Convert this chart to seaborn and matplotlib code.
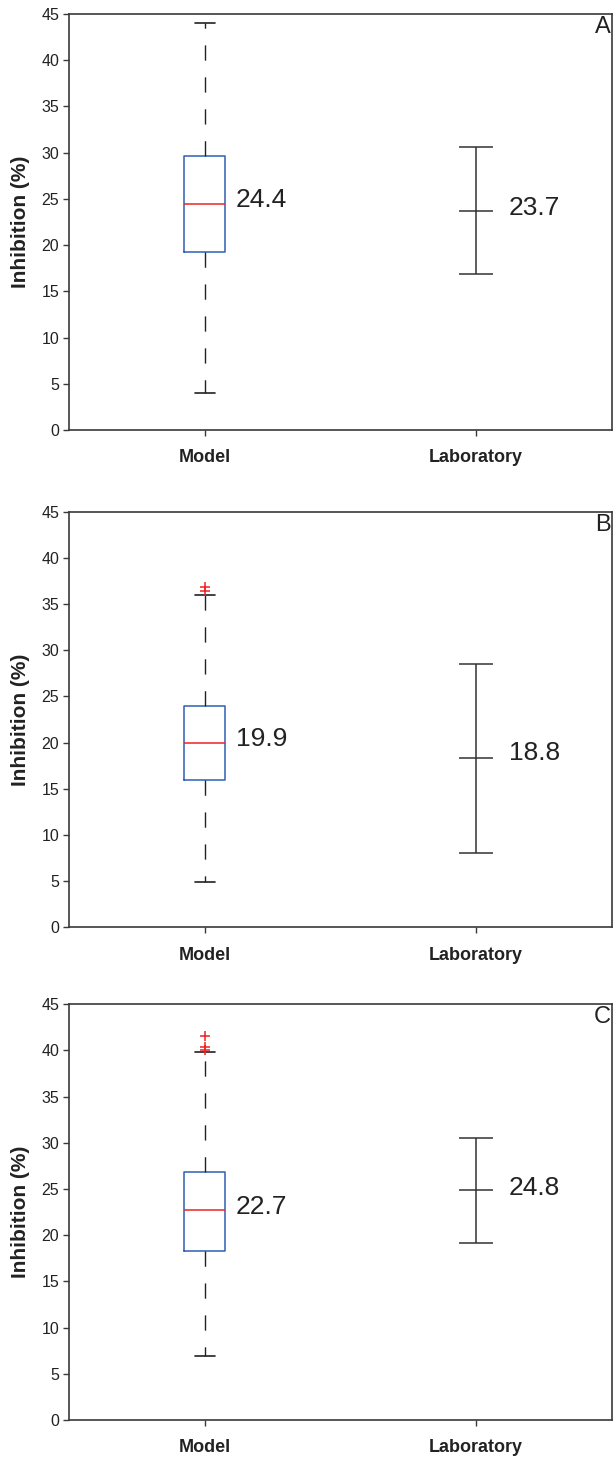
import numpy as np
import matplotlib
matplotlib.use("Agg")
import matplotlib.pyplot as plt
import seaborn as sns

# ---- data ----
panels = ["A", "B", "C"]
categories = ["Model", "Laboratory"]

# Model box plot summary statistics
model_whislo = [4.0, 4.95, 6.95]
model_q1 = [19.25, 15.9, 18.3]
model_median = [24.5, 20.0, 22.7]
model_q3 = [29.6, 24.0, 26.9]
model_whishi = [44.0, 36.0, 39.8]
model_fliers = [[], [36.4, 36.8], [40.05, 40.4, 41.6]]
model_labels = ["24.4", "19.9", "22.7"]

# Laboratory mean with range
lab_center = [23.7, 18.3, 24.85]
lab_low = [16.85, 8.0, 19.15]
lab_high = [30.65, 28.5, 30.55]
lab_labels = ["23.7", "18.8", "24.8"]

yticks = [0, 5, 10, 15, 20, 25, 30, 35, 40, 45]

sns.set_style("ticks")
plt.rcParams["font.family"] = ["Liberation Sans", "DejaVu Sans"]

W, H = 614, 1457
fig = plt.figure(figsize=(W / 100, H / 100), dpi=100)

axes_px = [(14, 430), (511.7, 927.3), (1004.3, 1420)]
left_px, right_px = 69, 612

spine_col = "#3a3a3a"
box_col = "#2f5fb3"
med_col = "#ee2222"
txt_col = "#222222"

for i, (top, bot) in enumerate(axes_px):
    ax = fig.add_axes([left_px / W, 1 - bot / H, (right_px - left_px) / W, (bot - top) / H])
    stats = [{
        "whislo": model_whislo[i], "q1": model_q1[i], "med": model_median[i],
        "q3": model_q3[i], "whishi": model_whishi[i], "fliers": model_fliers[i],
    }]
    ax.bxp(stats, positions=[1], widths=0.15, showfliers=True,
           boxprops=dict(color=box_col, linewidth=1.1),
           medianprops=dict(color=med_col, linewidth=1.1),
           whiskerprops=dict(color=txt_col, linewidth=1.0, linestyle=(0, (11, 12))),
           capprops=dict(color=txt_col, linewidth=1.2),
           capwidths=0.075,
           flierprops=dict(marker="+", markeredgecolor=med_col, markersize=7,
                           markeredgewidth=1.1, linestyle="none"))
    # Laboratory error bar
    ax.errorbar([2], [lab_center[i]],
                yerr=[[lab_center[i] - lab_low[i]], [lab_high[i] - lab_center[i]]],
                fmt="_", color="#333333", ecolor="#333333", elinewidth=1.1,
                capsize=12, capthick=1.1, markersize=24, markeredgewidth=1.1)
    # value labels
    ax.text(1.115, model_median[i] + 0.4, model_labels[i], fontsize=19,
            ha="left", va="center", color=txt_col)
    ax.text(2.119, lab_center[i] + (0.6 if i == 1 else 0.3),
            lab_labels[i], fontsize=19, ha="left", va="center", color=txt_col)
    ax.text(0.998, 0.995, panels[i], transform=ax.transAxes, fontsize=17,
            ha="right", va="top", color=txt_col)

    ax.set_xlim(0.5, 2.5)
    ax.set_ylim(0, 45)
    ax.set_yticks(yticks)
    ax.set_yticklabels([str(t) for t in yticks], fontsize=11.5, color=txt_col)
    ax.set_xticks([1, 2])
    ax.set_xticklabels(categories, fontsize=13, fontweight="bold", color=txt_col)
    ax.tick_params(axis="y", direction="out", length=4, width=1, color=spine_col, pad=3)
    ax.tick_params(axis="x", direction="out", length=4, width=1, color=spine_col, pad=10)
    ax.set_ylabel("Inhibition (%)", fontsize=15, fontweight="bold", color=txt_col, labelpad=8)
    for s in ax.spines.values():
        s.set_color(spine_col)
        s.set_linewidth(1.2)

fig.savefig("out.png", dpi=100)
